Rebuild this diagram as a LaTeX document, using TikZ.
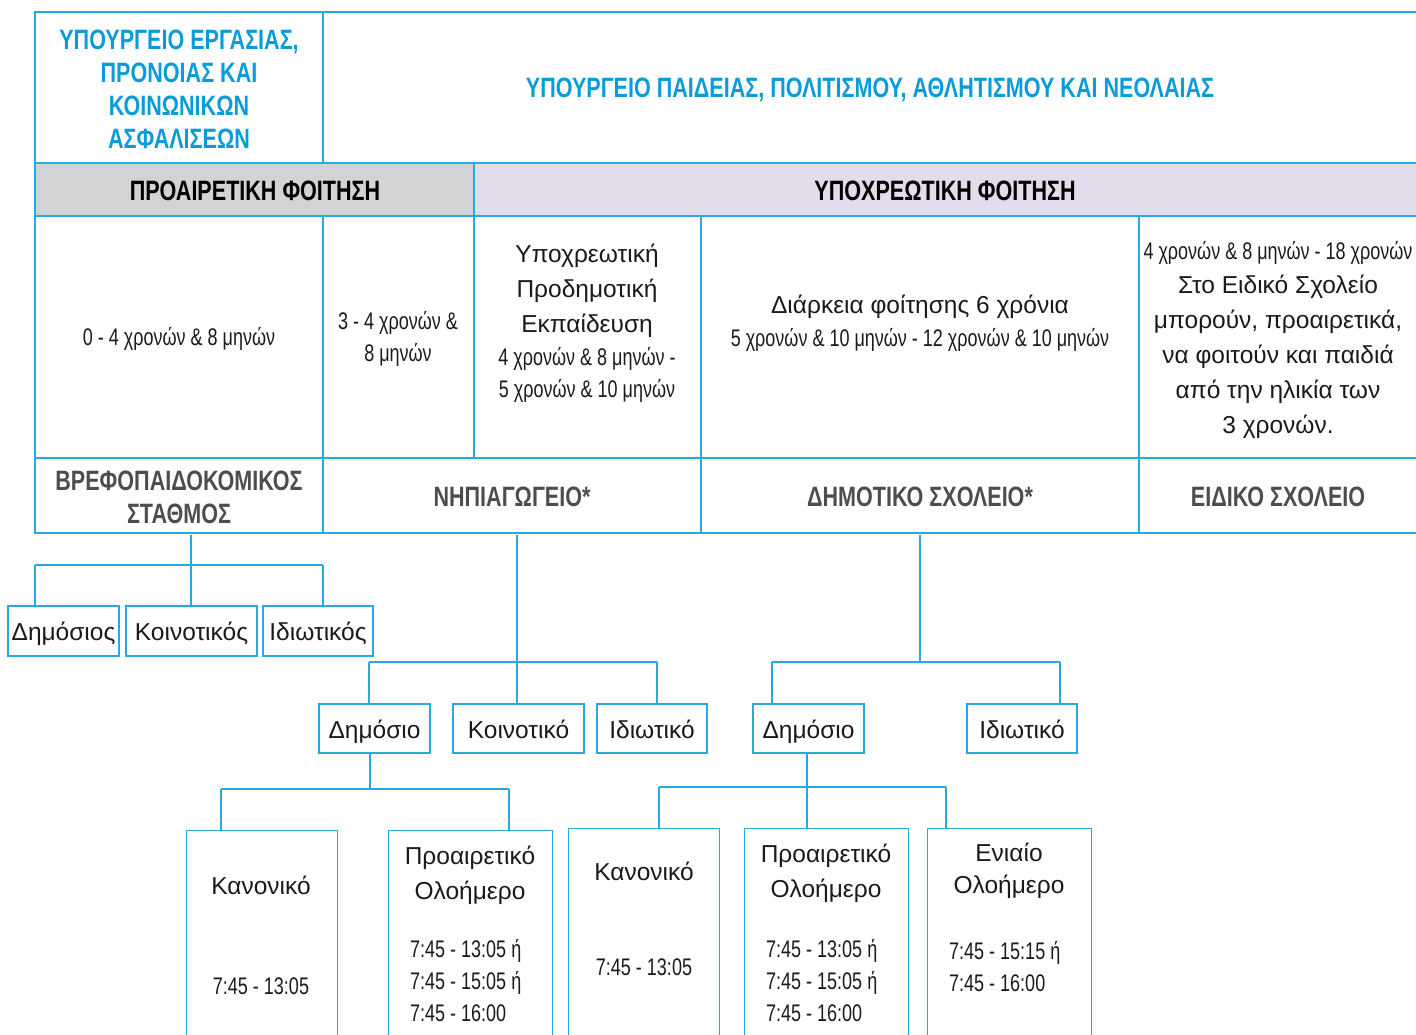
\documentclass[tikz,border=0pt]{standalone}
\usepackage{fontspec}
\setmainfont{Liberation Sans}
\newfontfamily\cnd[FakeStretch=0.75]{Liberation Sans}
\newfontfamily\hdr[FakeStretch=0.77]{Liberation Sans}
\definecolor{lblue}{HTML}{2AA8E0}
\definecolor{tblue}{HTML}{0A9BD8}
\definecolor{gfill}{HTML}{D2D3D5}
\definecolor{lfill}{HTML}{E2DCEC}
\definecolor{dgray}{HTML}{4D4D4D}
\definecolor{tblack}{HTML}{1A1A1A}
\newcommand{\fR}{\fontsize{24.5}{35}\selectfont}
\newcommand{\fC}{\cnd\fontsize{24}{32}\selectfont}
\newcommand{\fH}{\hdr\bfseries\fontsize{28}{33}\selectfont}
\begin{document}
\begin{tikzpicture}[x=1pt,y=-1pt,
  ln/.style={draw=lblue, line width=1.3pt},
  cellnode/.style={inner sep=0pt, align=center},
  box/.style={draw=lblue, line width=1.3pt, inner sep=0pt, font=\fR, text=tblack, text height=22pt, text depth=3pt},
  tall/.style={draw=lblue, line width=1.3pt, inner sep=0pt, anchor=north west, minimum height=220pt},
  rtxt/.style={inner sep=0pt, align=center, font=\fR, text=tblack},
  ctxt/.style={inner sep=0pt, align=center, font=\fC, text=tblack},
  ltime/.style={inner sep=0pt, align=left, anchor=west, font=\fC, text=tblack},
  htxt/.style={inner sep=0pt, align=center, font=\fH},
]
\useasboundingbox (0,0) rectangle (1416,1035);
% fills
\fill[gfill] (35,163) rectangle (474,216);
\fill[lfill] (474,163) rectangle (1420,216);
% table lines
\draw[ln] (1420,12) -- (35,12) -- (35,533) -- (1420,533);
\foreach \yy in {163,216,458} \draw[ln] (35,\yy) -- (1420,\yy);
\draw[ln] (323,12) -- (323,163);
\draw[ln] (474,163) -- (474,458);
\draw[ln] (323,216) -- (323,533);
\draw[ln] (701,216) -- (701,533);
\draw[ln] (1139,216) -- (1139,533);

% row 1
\node[htxt, text=tblue] (min1) at (179,89) {ΥΠΟΥΡΓΕΙΟ ΕΡΓΑΣΙΑΣ,\\ΠΡΟΝΟΙΑΣ ΚΑΙ\\ΚΟΙΝΩΝΙΚΩΝ\\ΑΣΦΑΛΙΣΕΩΝ};
\node[htxt, text=tblue] (min2) at (870,90) {ΥΠΟΥΡΓΕΙΟ ΠΑΙΔΕΙΑΣ, ΠΟΛΙΤΙΣΜΟΥ, ΑΘΛΗΤΙΣΜΟΥ ΚΑΙ ΝΕΟΛΑΙΑΣ};
% row 2
\node[htxt, text=black] (proair) at (255,191) {ΠΡΟΑΙΡΕΤΙΚΗ ΦΟΙΤΗΣΗ};
\node[htxt, text=black] (ypoxr) at (945,191) {ΥΠΟΧΡΕΩΤΙΚΗ ΦΟΙΤΗΣΗ};
% row 3
\node[ctxt] (age1) at (179,339) {0 - 4 χρονών \& 8 μηνών};
\node[ctxt] (age2) at (398,339) {3 - 4 χρονών \&\\8 μηνών};
\node[rtxt] (ypo) at (587,291) {Υποχρεωτική\\Προδημοτική\\Εκπαίδευση};
\node[ctxt] (age3) at (587,375) {4 χρονών \& 8 μηνών -\\5 χρονών \& 10 μηνών};
\node[rtxt] (diark) at (920,307) {Διάρκεια φοίτησης 6 χρόνια};
\node[ctxt] (age4) at (920,340) {5 χρονών \& 10 μηνών - 12 χρονών \& 10 μηνών};
\node[ctxt] (age5) at (1278,253) {4 χρονών \& 8 μηνών - 18 χρονών};
\node[rtxt] (eidtxt) at (1278,357) {Στο Ειδικό Σχολείο\\μπορούν, προαιρετικά,\\να φοιτούν και παιδιά\\από την ηλικία των\\3 χρονών.};
% row 4
\node[cellnode, minimum width=288pt, minimum height=75pt, font=\fH, text=dgray] (bref) at (179,497) {ΒΡΕΦΟΠΑΙΔΟΚΟΜΙΚΟΣ\\ΣΤΑΘΜΟΣ};
\node[cellnode, minimum width=378pt, minimum height=75pt, font=\fH, text=dgray] (nip) at (512,497) {ΝΗΠΙΑΓΩΓΕΙΟ*};
\node[cellnode, minimum width=438pt, minimum height=75pt, font=\fH, text=dgray] (dim) at (920,497) {ΔΗΜΟΤΙΚΟ ΣΧΟΛΕΙΟ*};
\node[cellnode, minimum width=277pt, minimum height=75pt, font=\fH, text=dgray] (eid) at (1278,497) {ΕΙΔΙΚΟ ΣΧΟΛΕΙΟ};

% level boxes
\node[box, minimum width=111pt, minimum height=50pt] (bdim) at (63.5,631) {Δημόσιος};
\node[box, minimum width=131pt, minimum height=50pt] (bkoin) at (191.5,631) {Κοινοτικός};
\node[box, minimum width=110pt, minimum height=50pt] (bidi) at (318,631) {Ιδιωτικός};
\node[box, minimum width=111pt, minimum height=49pt] (ndim) at (374.5,728.5) {Δημόσιο};
\node[box, minimum width=131pt, minimum height=49pt] (nkoin) at (518.5,728.5) {Κοινοτικό};
\node[box, minimum width=110pt, minimum height=49pt] (nidi) at (652,728.5) {Ιδιωτικό};
\node[box, minimum width=111pt, minimum height=49pt] (ddim) at (808.5,728.5) {Δημόσιο};
\node[box, minimum width=110pt, minimum height=49pt] (didi) at (1022,728.5) {Ιδιωτικό};

% tall boxes
\node[tall, minimum width=151pt] (nkan) at (186,830) {};
\node[tall, minimum width=164pt] (npro) at (388,830) {};
\node[tall, minimum width=151pt] (dkan) at (568,828) {};
\node[tall, minimum width=164pt] (dpro) at (744,828) {};
\node[tall, minimum width=164pt] (deni) at (927,828) {};

\node[rtxt] (nkant) at (261,885) {Κανονικό};
\node[ctxt] (nkanh) at (261,986) {7:45 - 13:05};
\node[rtxt] (nprot) at (470,875.5) {Προαιρετικό\\Ολοήμερο};
\node[ltime] (nproh) at (410,980.5) {7:45 - 13:05 ή\\7:45 - 15:05 ή\\7:45 - 16:00};
\node[rtxt] (dkant) at (644,871) {Κανονικό};
\node[ctxt] (dkanh) at (644,967) {7:45 - 13:05};
\node[rtxt] (dprot) at (826,873.5) {Προαιρετικό\\Ολοήμερο};
\node[ltime] (dproh) at (766,980.5) {7:45 - 13:05 ή\\7:45 - 15:05 ή\\7:45 - 16:00};
\node[rtxt, font=\fontsize{24.5}{32}\selectfont] (denit) at (1009,871) {Ενιαίο\\Ολοήμερο};
\node[ltime] (denih) at (949,966.5) {7:45 - 15:15 ή\\7:45 - 16:00};

% connectors: βρεφοπαιδοκομικός
\coordinate (b1) at (35,565);
\coordinate (b2) at (191,565);
\coordinate (b3) at (323,565);
\draw[ln] (bref.south -| b2) -- (b2);
\draw[ln] (b1) -- (b3);
\draw[ln] (b1) -- (b1 |- bdim.north);
\draw[ln] (b2) -- (b2 |- bkoin.north);
\draw[ln] (b3) -- (b3 |- bidi.north);
% νηπιαγωγείο
\coordinate (n0) at (517,662);
\coordinate (n1) at (369,662);
\coordinate (n3) at (657,662);
\draw[ln] (nip.south -| n0) -- (n0);
\draw[ln] (n1) -- (n3);
\draw[ln] (n1) -- (n1 |- ndim.north);
\draw[ln] (n0) -- (n0 |- nkoin.north);
\draw[ln] (n3) -- (n3 |- nidi.north);
% δημοτικό
\coordinate (d0) at (920,662);
\coordinate (d1) at (772,662);
\coordinate (d3) at (1060,662);
\draw[ln] (dim.south) -- (d0);
\draw[ln] (d1) -- (d3);
\draw[ln] (d1) -- (d1 |- ddim.north);
\draw[ln] (d3) -- (d3 |- didi.north);
% δημόσιο νηπ.
\coordinate (p0) at (370,789);
\coordinate (p1) at (221,789);
\coordinate (p3) at (509,789);
\draw[ln] (ndim.south -| p0) -- (p0);
\draw[ln] (p1) -- (p3);
\draw[ln] (p1) -- (p1 |- nkan.north);
\draw[ln] (p3) -- (p3 |- npro.north);
% δημόσιο δημ.
\coordinate (q0) at (807,787);
\coordinate (q1) at (659,787);
\coordinate (q3) at (946,787);
\draw[ln] (ddim.south -| q0) -- (q0);
\draw[ln] (q1) -- (q3);
\draw[ln] (q1) -- (q1 |- dkan.north);
\draw[ln] (q0) -- (q0 |- dpro.north);
\draw[ln] (q3) -- (q3 |- deni.north);
\end{tikzpicture}
\end{document}
